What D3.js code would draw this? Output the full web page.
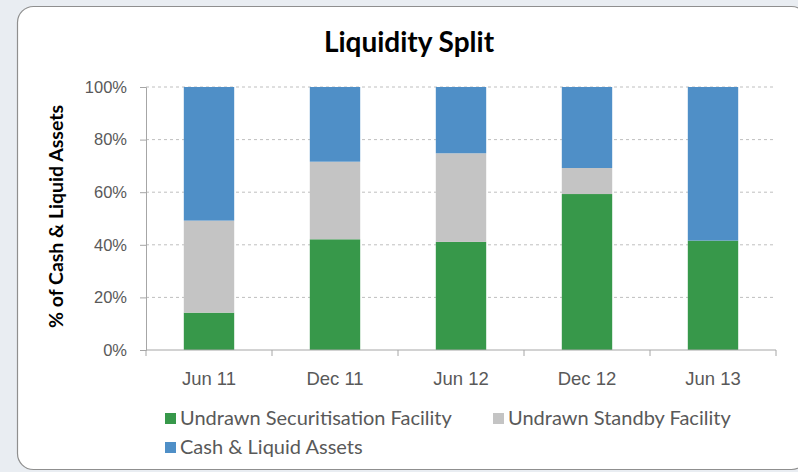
<!DOCTYPE html>
<html>
<head>
<meta charset="utf-8">
<script src="https://cdn.jsdelivr.net/npm/d3@7"></script>
<style>
  html, body { margin: 0; padding: 0; background: #e9edf2; }
  svg { display: block; font-family: Lato, "Open Sans", sans-serif; }
</style>
</head>
<body>
<div id="chart"></div>
<script>
const periods = ["Jun 11", "Dec 11", "Jun 12", "Dec 12", "Jun 13"];
const seriesNames = ["Undrawn Securitisation Facility", "Undrawn Standby Facility", "Cash & Liquid Assets"];
const securitisation = [14.2, 42.1, 41.1, 59.3, 41.6];
const standby = [35.0, 29.5, 33.7, 9.9, 0];
const cash = [50.8, 28.4, 25.2, 30.8, 58.4];
const yTicks = [0, 20, 40, 60, 80, 100];

const colors = {
  green: "#37984a",
  grey: "#c4c4c4",
  blue: "#4f8fc7",
  text: "#595959",
  axis: "#a6a6a6",
  grid: "#bfbfbf"
};
const seriesColors = [colors.green, colors.grey, colors.blue];

const W = 798, H = 472;
const svg = d3.select("#chart").append("svg")
  .attr("width", W)
  .attr("height", H);

// chart frame
svg.append("rect")
  .attr("x", 17.5).attr("y", 6.5)
  .attr("width", 790).attr("height", 463)
  .attr("rx", 16)
  .attr("fill", "#fff")
  .attr("stroke", "#8f8f8f")
  .attr("stroke-width", 1.2);

const plot = { left: 146, right: 776, top: 87, bottom: 350 };

const x = d3.scaleBand()
  .domain(periods)
  .range([plot.left, plot.right])
  .paddingInner(0.6)
  .paddingOuter(0.3);

const xEdges = d3.scaleBand().domain(periods).range([plot.left, plot.right]);

const y = d3.scaleLinear()
  .domain([0, 100])
  .range([plot.bottom, plot.top]);

// gridlines
svg.append("g")
  .selectAll("line")
  .data(yTicks.filter(d => d > 0))
  .join("line")
  .attr("x1", plot.left).attr("x2", plot.right)
  .attr("y1", d => y(d)).attr("y2", d => y(d))
  .attr("stroke", colors.grid)
  .attr("stroke-width", 1)
  .attr("stroke-dasharray", "3,3");

// stacked data
const rows = periods.map((p, i) => ({
  period: p,
  [seriesNames[0]]: securitisation[i],
  [seriesNames[1]]: standby[i],
  [seriesNames[2]]: cash[i]
}));
const stacked = d3.stack().keys(seriesNames)(rows);

svg.append("g")
  .selectAll("g")
  .data(stacked)
  .join("g")
  .attr("fill", (d, i) => seriesColors[i])
  .selectAll("rect")
  .data(d => d.filter(s => s[1] - s[0] > 0))
  .join("rect")
  .attr("x", d => x(d.data.period))
  .attr("width", x.bandwidth())
  .attr("y", d => y(d[1]))
  .attr("height", d => y(d[0]) - y(d[1]));

// y axis
const yAxis = svg.append("g")
  .attr("transform", `translate(${plot.left},0)`)
  .call(d3.axisLeft(y).tickValues(yTicks).tickFormat(d => d + "%").tickSize(6).tickPadding(13));
yAxis.select(".domain").attr("stroke", colors.axis);
yAxis.selectAll(".tick line").attr("stroke", colors.axis);
yAxis.selectAll("text")
  .attr("fill", colors.text)
  .style("font-size", "16.5px");

// x axis
const xAxis = svg.append("g")
  .attr("transform", `translate(0,${plot.bottom})`)
  .call(d3.axisBottom(xEdges).tickSize(0).tickPadding(22));
xAxis.select(".domain").attr("stroke", colors.axis).attr("d", `M${plot.left},0H${plot.right}`);
xAxis.selectAll("text")
  .attr("fill", colors.text)
  .style("font-size", "18.5px");

// category boundary ticks
svg.append("g")
  .selectAll("line")
  .data(periods.concat(["end"]))
  .join("line")
  .attr("x1", (d, i) => i < periods.length ? xEdges(d) : plot.right)
  .attr("x2", (d, i) => i < periods.length ? xEdges(d) : plot.right)
  .attr("y1", plot.bottom)
  .attr("y2", plot.bottom + 6)
  .attr("stroke", colors.axis);

// title
svg.append("text")
  .attr("x", 409)
  .attr("y", 52)
  .attr("text-anchor", "middle")
  .style("font-size", "28px")
  .style("font-weight", "700")
  .attr("fill", "#000")
  .text("Liquidity Split");

// y axis title
svg.append("text")
  .attr("transform", `translate(63,${(plot.top + plot.bottom) / 2 - 2}) rotate(-90)`)
  .attr("text-anchor", "middle")
  .style("font-size", "19.5px")
  .style("font-weight", "700")
  .attr("fill", "#000")
  .text("% of Cash & Liquid Assets");

// legend
const legendPos = [
  { x: 165, y: 418 },
  { x: 493, y: 418 },
  { x: 165, y: 447 }
];
const legend = svg.append("g")
  .selectAll("g")
  .data(seriesNames)
  .join("g")
  .attr("transform", (d, i) => `translate(${legendPos[i].x},${legendPos[i].y})`);

legend.append("rect")
  .attr("x", 0).attr("y", -5)
  .attr("width", 11).attr("height", 11)
  .attr("fill", (d, i) => seriesColors[i]);

legend.append("text")
  .attr("x", 15)
  .attr("y", 0)
  .attr("dy", "0.35em")
  .style("font-size", "20px")
  .attr("fill", colors.text)
  .text(d => d);
</script>
</body>
</html>
